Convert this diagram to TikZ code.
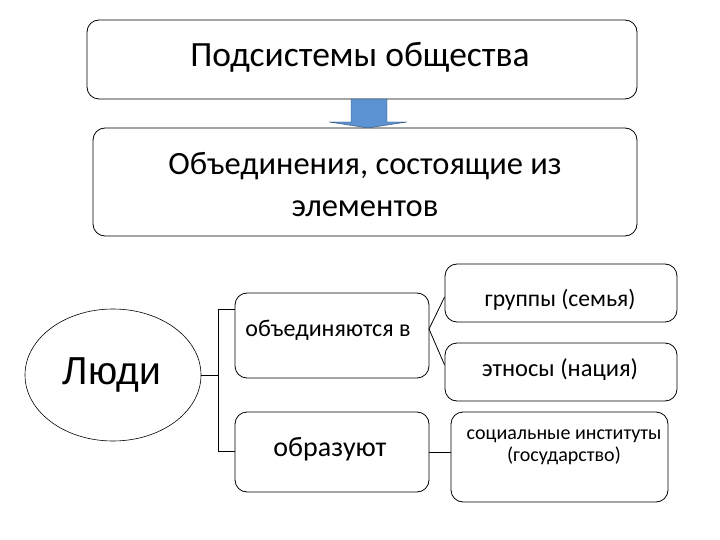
\documentclass[tikz,border=0pt]{standalone}
\usepackage{fontspec}
\setmainfont{Carlito}
\newfontfamily\arialf{Liberation Sans}
\usetikzlibrary{shapes.geometric}
\definecolor{arrowblue}{RGB}{91,146,210}
\begin{document}
\begin{tikzpicture}[x=1pt,y=-1pt,
  box/.style={draw=black, line width=0.8pt, rounded corners=12pt, fill=white, inner sep=0pt},
  conn/.style={draw=black, line width=0.8pt},
  lbl/.style={inner sep=0pt, align=center},
  fs/.style={font=\fontsize{#1}{#1}\selectfont}]
\useasboundingbox (0,0) rectangle (720,540);
% top boxes
\node[box, minimum width=550, minimum height=79] (sub) at (362,59.5) {};
\node[lbl, fs=35.5] (subt) at (360,57) {Подсистемы общества};
\node[box, minimum width=544, minimum height=108] (obj) at (365,182) {};
\node[lbl, font=\fontsize{32.5}{42}\selectfont] (objt) at (365,185) {Объединения, состоящие из\\элементов};
% blue arrow
\draw[fill=arrowblue, draw=arrowblue!50!black, line width=0.4pt]
  (351,99) -- (387,99) -- (387,122) -- (407,122) -- (368,128) -- (329,122) -- (351,122) -- cycle;
% people
\node[draw=black, line width=0.6pt, ellipse, minimum width=176, minimum height=132, inner sep=0pt] (people) at (113,375) {};
\node[lbl, font=\arialf\fontsize{39}{42}\selectfont] (peoplet) at (112,375) {Люди};
% middle boxes
\node[box, minimum width=194, minimum height=85] (unite) at (332,335.5) {};
\node[lbl, fs=24] (unitet) at (328,330) {объединяются в};
\node[box, minimum width=194, minimum height=80] (form) at (332,452) {};
\node[lbl, fs=28] (formt) at (330,449) {образуют};
% right boxes
\node[box, minimum width=232, minimum height=58] (groups) at (561,293) {};
\node[lbl, fs=23.6] (groupst) at (560,300) {группы (семья)};
\node[box, minimum width=232, minimum height=58] (ethnic) at (561,372) {};
\node[lbl, fs=24.5] (ethnict) at (560,370) {этносы (нация)};
\node[box, minimum width=217, minimum height=90] (social) at (559.5,457) {};
\node[lbl, font=\fontsize{20}{22}\selectfont] (socialt) at (564,447) {социальные институты\\(государство)};
% bracket
\coordinate (t1) at (218,309);
\coordinate (t2) at (218,451);
\draw[conn] (unite.west |- t1) -- (t1) -- (t2) -- (form.west |- t2);
\draw[conn] (people.east) -- (people.east -| t1);
% connectors
\coordinate (u) at (429,329);
\draw[conn] (u) -- (groups.west |- 0,297);
\draw[conn] (u) -- (ethnic.west |- 0,365);
\draw[conn] (form.east) -- (social.west |- form.east);
\end{tikzpicture}
\end{document}
